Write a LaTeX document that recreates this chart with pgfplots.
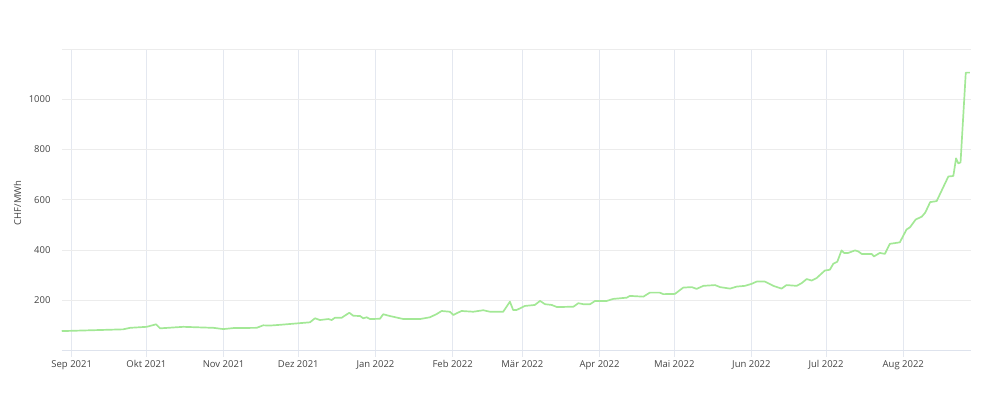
\documentclass[border=0pt]{standalone}
\usepackage{pgfplots}
\pgfplotsset{compat=1.18}
\usepackage{fontspec}
\setmainfont{Open Sans}
\definecolor{linegreen}{RGB}{163,232,150}
\definecolor{vgrid}{RGB}{228,232,240}
\definecolor{hgrid}{RGB}{236,236,236}
\definecolor{zeroline}{RGB}{222,227,237}
\definecolor{ticktext}{RGB}{68,68,68}
\pgfplotstableread{
day value
-4.0 78
20.7 85
23.4 91
30.1 95
33.9 105
35.5 89
44.8 95
56.9 91
60.9 86
64.9 90
74.3 91
76.9 101
79.6 100
83.7 103
95.7 113
97.7 129
99.7 122
103.1 126
104.4 122
105.7 131
108.4 131
111.5 151
113.1 139
115.8 138
117.1 129
118.5 133
119.8 126
123.8 127
125.1 145
127.8 138
133.2 126
139.9 126
143.9 133
146.6 146
148.6 158
151.9 155
153.3 142
154.6 149
156.6 158
161.3 155
165.3 161
168.0 155
173.3 155
176.0 195
177.3 162
178.7 162
182.0 178
186.0 182
188.1 198
190.1 185
192.8 182
194.8 174
196.8 174
201.5 175
203.5 189
205.5 185
208.2 185
210.2 198
214.9 198
217.5 206
222.9 211
224.2 218
229.6 215
232.2 231
236.2 231
237.6 225
242.3 226
245.6 251
249.0 253
251.0 246
253.7 258
258.4 261
260.4 253
264.4 247
267.1 255
270.4 258
273.1 266
275.1 275
278.4 275
281.8 258
285.1 247
287.1 261
291.2 258
293.2 269
295.2 285
297.2 279
299.2 289
302.5 319
304.5 322
305.9 346
307.5 354
309.2 399
310.2 389
311.9 389
314.6 399
315.9 395
317.3 385
321.3 385
322.2 375
324.6 389
326.6 385
328.6 425
332.6 431
335.3 482
336.7 491
339.0 522
341.4 533
342.8 549
344.8 591
347.4 595
352.1 693
354.1 695
355.2 765
356.1 745
357.0 749
359.1 1106
360.7 1106
}\pricedata
\begin{document}
\begin{tikzpicture}
\path[use as bounding box] (0,0) rectangle (983bp,417bp);
\begin{axis}[
  at={(62bp,60bp)}, anchor=south west,
  scale only axis, width=909bp, height=308bp,
  xmin=-3.9, xmax=361.2, ymin=-25, ymax=1200,
  axis line style={draw=none},
  major tick length=0pt,
  xtick={0,30,61,91,122,153,181,212,242,273,303,334},
  xticklabels={Sep 2021,Okt 2021,Nov 2021,Dez 2021,Jan 2022,Feb 2022,Mär 2022,Apr 2022,Mai 2022,Jun 2022,Jul 2022,Aug 2022},
  ytick={0,200,400,600,800,1000,1200},
  yticklabels={,200,400,600,800,1000,},
  /pgf/number format/assume math mode=true,
  tick label style={font=\fontsize{9.5bp}{11bp}\selectfont, text=ticktext},
  yticklabel style={xshift=-8bp},
  xticklabel style={yshift=0bp},
  xmajorgrids, ymajorgrids,
  x grid style={vgrid, line width=0.9pt},
  y grid style={hgrid, line width=0.9pt},
  ylabel={CHF/MWh},
  every axis y label/.style={at={(rel axis cs:0,0.5)}, xshift=-44.5bp, rotate=90, anchor=center, font=\fontsize{9.5bp}{11bp}\selectfont, text=ticktext},
  clip=false,
]
\draw[zeroline, line width=1.5pt] (axis cs:-3.9,0) -- (axis cs:361.2,0);
\addplot[linegreen, line width=1.7pt, line join=round, no markers] table[x=day, y=value] {\pricedata};
\end{axis}
\end{tikzpicture}
\end{document}
